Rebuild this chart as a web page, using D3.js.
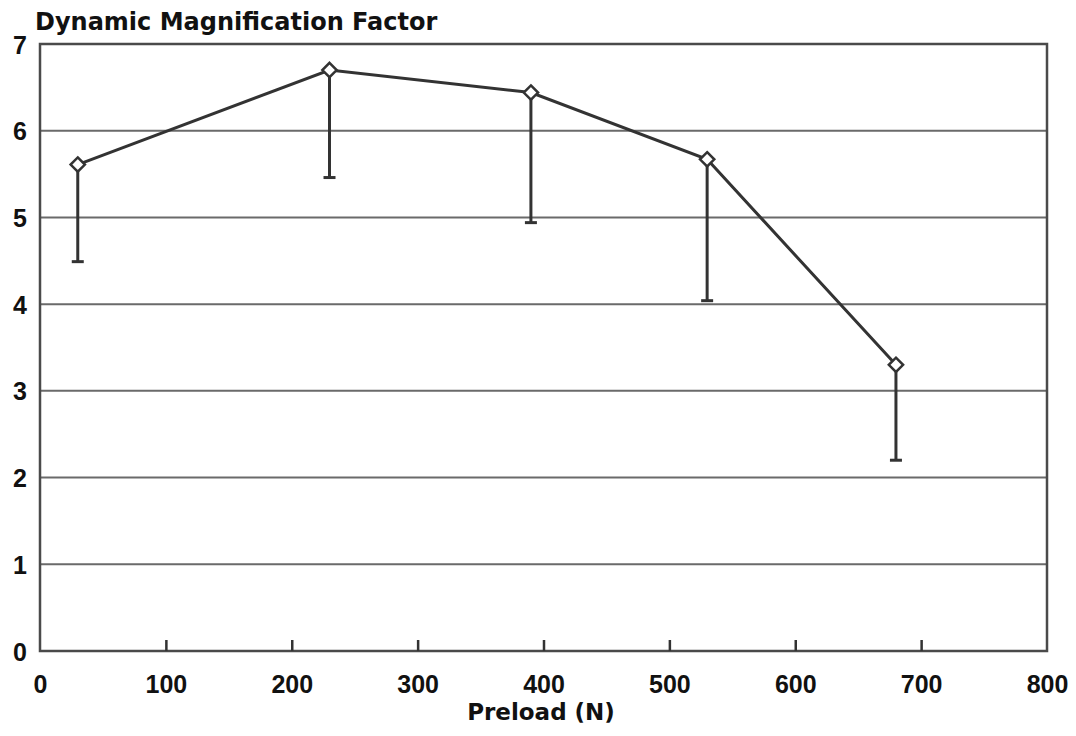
<!DOCTYPE html>
<html>
<head>
<meta charset="utf-8">
<script src="https://cdn.jsdelivr.net/npm/d3@7"></script>
<style>
  html, body { margin: 0; padding: 0; background: #fff; }
  text { font-weight: bold; fill: #111; }
</style>
</head>
<body>
<svg id="chart" width="1076" height="736"></svg>
<script>
// Preload (N) vs. mean dynamic magnification factor, with lower error bars
const preload = [30, 230, 390, 530, 680];
const dmf = [5.61, 6.70, 6.44, 5.67, 3.30];
const dmfLow = [4.49, 5.46, 4.94, 4.04, 2.20];
const xTicks = [0, 100, 200, 300, 400, 500, 600, 700, 800];
const yTicks = [0, 1, 2, 3, 4, 5, 6, 7];

const svg = d3.select("#chart");
const plotLeft = 40, plotRight = 1047, plotTop = 44, plotBottom = 651;
const digitFont = "Liberation Sans, Arial, sans-serif";
const titleFont = "DejaVu Sans, sans-serif";

const x = d3.scaleLinear().domain([0, 800]).range([plotLeft, plotRight]);
const y = d3.scaleLinear().domain([0, 7]).range([plotBottom, plotTop]);

// horizontal grid lines
svg.append("g").selectAll("line").data(yTicks.slice(1, -1)).join("line")
  .attr("x1", plotLeft).attr("x2", plotRight)
  .attr("y1", d => y(d)).attr("y2", d => y(d))
  .attr("stroke", "#6a6a6a").attr("stroke-width", 2);

// plot frame
svg.append("rect")
  .attr("x", plotLeft).attr("y", plotTop)
  .attr("width", plotRight - plotLeft).attr("height", plotBottom - plotTop)
  .attr("fill", "none").attr("stroke", "#4a4a4a").attr("stroke-width", 2.5);

// x axis: inward ticks and labels
const xAxis = d3.axisBottom(x).tickValues(xTicks).tickSize(-11).tickFormat(d3.format("d"));
const gx = svg.append("g").attr("transform", `translate(0,${plotBottom})`).call(xAxis);
gx.select(".domain").remove();
gx.selectAll(".tick line").attr("stroke", "#333").attr("stroke-width", 2.5)
  .filter(d => d === 0 || d === 800).remove();
gx.selectAll(".tick text").attr("font-size", 25).attr("fill", "#111")
  .attr("font-family", digitFont).attr("font-weight", "bold")
  .attr("dy", null).attr("y", 42);

// y axis labels
const yAxis = d3.axisLeft(y).tickValues(yTicks).tickSize(0).tickPadding(13).tickFormat(d3.format("d"));
const gy = svg.append("g").attr("transform", `translate(${plotLeft},0)`).call(yAxis);
gy.select(".domain").remove();
gy.selectAll(".tick text").attr("font-size", 25).attr("fill", "#111")
  .attr("font-family", digitFont).attr("font-weight", "bold")
  .attr("dy", "0.36em");

// error bars (lower)
const eb = svg.append("g");
eb.selectAll("line.stem").data(preload).join("line").attr("class", "stem")
  .attr("x1", d => x(d)).attr("x2", d => x(d))
  .attr("y1", (d, i) => y(dmf[i])).attr("y2", (d, i) => y(dmfLow[i]))
  .attr("stroke", "#333").attr("stroke-width", 3);
eb.selectAll("line.cap").data(preload).join("line").attr("class", "cap")
  .attr("x1", d => x(d) - 6).attr("x2", d => x(d) + 6)
  .attr("y1", (d, i) => y(dmfLow[i])).attr("y2", (d, i) => y(dmfLow[i]))
  .attr("stroke", "#333").attr("stroke-width", 3);

// connecting line
const pts = preload.map((d, i) => [d, dmf[i]]);
svg.append("path").datum(pts)
  .attr("d", d3.line().x(d => x(d[0])).y(d => y(d[1])))
  .attr("fill", "none").attr("stroke", "#333").attr("stroke-width", 3);

// open diamond markers
svg.append("g").selectAll("path").data(pts).join("path")
  .attr("transform", d => `translate(${x(d[0])},${y(d[1])})`)
  .attr("d", d3.symbol(d3.symbolDiamond2, 130))
  .attr("fill", "#fff").attr("stroke", "#333").attr("stroke-width", 2.5);

// titles
svg.append("text").attr("x", 35).attr("y", 30).attr("font-size", 24)
  .attr("font-family", titleFont).text("Dynamic Magnification Factor");
svg.append("text").attr("x", 541).attr("y", 720).attr("font-size", 23)
  .attr("font-family", titleFont).attr("text-anchor", "middle").text("Preload (N)");
</script>
</body>
</html>
